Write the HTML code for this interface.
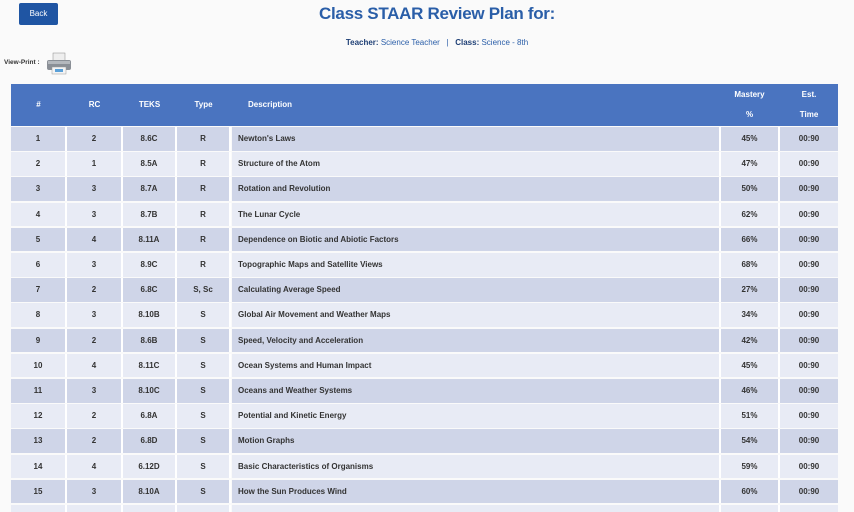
<!DOCTYPE html>
<html style="width:854px;height:512px;overflow:hidden"><head><meta charset="utf-8"><style>
html,body{margin:0;width:854px;height:512px;overflow:hidden}
body{background:#fafafa;font-family:"Liberation Sans",sans-serif;position:relative}
.abs{position:absolute}
.back{left:19px;top:3px;width:39px;height:22px;background:#1f55a3;border-radius:2px;color:#fff;font-size:8px;text-align:center;line-height:22px}
.title{left:0;width:854px;top:4px;text-align:center;padding-left:20px;box-sizing:border-box;color:#2a5ea8;font-size:17px;font-weight:bold;letter-spacing:-0.3px}
.sub{left:0;width:854px;top:38px;text-align:center;padding-left:20px;box-sizing:border-box;font-size:8px;color:#2a5ea8}
.sub b{color:#1e3f75}
.vp{left:4px;top:59px;font-size:6.5px;font-weight:bold;color:#333}
.hdr{left:11px;top:84px;width:827px;height:42px;background:#4a74c0}
.h{position:absolute;color:#fff;font-size:8px;font-weight:bold;text-align:center}
.row{position:absolute;left:11px;width:827px;height:25px}
.c{position:absolute;top:0;height:23.5px;line-height:23.5px;font-size:8px;font-weight:bold;color:#333;text-align:center;border-right:2px solid #fff}
.o{background:#cfd5e8}.e{background:#e8ebf5}
</style></head><body>
<div class="abs back">Back</div>
<div class="abs title">Class STAAR Review Plan for:</div>
<div class="abs sub"><b>Teacher:</b> Science Teacher &nbsp; | &nbsp; <b>Class:</b> Science - 8th</div>
<div class="abs vp">View-Print :</div>
<svg class="abs" style="left:46px;top:52px" width="26" height="24"><rect x="7" y="1" width="12" height="8" fill="#eee" stroke="#888" stroke-width=".5"/><rect x="1" y="8" width="24" height="10" rx="2" fill="#8a8f96"/><rect x="2" y="9" width="22" height="3" fill="#b4b8bd"/><rect x="6" y="15" width="14" height="7" fill="#f4f4f4" stroke="#999" stroke-width=".5"/><rect x="9" y="17" width="8" height="3" fill="#5aa0d8"/></svg>
<div class="abs hdr">
<div class="h" style="left:0;width:55px;top:16px">#</div>
<div class="h" style="left:56px;width:55px;top:16px">RC</div>
<div class="h" style="left:112px;width:53px;top:16px">TEKS</div>
<div class="h" style="left:166px;width:53px;top:16px">Type</div>
<div class="h" style="left:237px;top:16px">Description</div>
<div class="h" style="left:710px;width:57px;top:6px">Mastery</div>
<div class="h" style="left:710px;width:57px;top:26px">%</div>
<div class="h" style="left:769px;width:58px;top:6px">Est.</div>
<div class="h" style="left:769px;width:58px;top:26px">Time</div>
</div>
<div id="rows"></div>
<script>
var d=[[1,2,"8.6C","R","Newton's Laws","45%"],[2,1,"8.5A","R","Structure of the Atom","47%"],[3,3,"8.7A","R","Rotation and Revolution","50%"],[4,3,"8.7B","R","The Lunar Cycle","62%"],[5,4,"8.11A","R","Dependence on Biotic and Abiotic Factors","66%"],[6,3,"8.9C","R","Topographic Maps and Satellite Views","68%"],[7,2,"6.8C","S, Sc","Calculating Average Speed","27%"],[8,3,"8.10B","S","Global Air Movement and Weather Maps","34%"],[9,2,"8.6B","S","Speed, Velocity and Acceleration","42%"],[10,4,"8.11C","S","Ocean Systems and Human Impact","45%"],[11,3,"8.10C","S","Oceans and Weather Systems","46%"],[12,2,"6.8A","S","Potential and Kinetic Energy","51%"],[13,2,"6.8D","S","Motion Graphs","54%"],[14,4,"6.12D","S","Basic Characteristics of Organisms","59%"],[15,3,"8.10A","S","How the Sun Produces Wind","60%"],["","","","","",""]];
var h="";
d.forEach(function(r,i){var cl=i%2?"e":"o";var t=127+i*25.2;
h+='<div class="row" style="top:'+t+'px">'+
'<div class="c '+cl+'" style="left:0;width:54px">'+r[0]+'</div>'+
'<div class="c '+cl+'" style="left:56px;width:54px">'+r[1]+'</div>'+
'<div class="c '+cl+'" style="left:112px;width:52px">'+r[2]+'</div>'+
'<div class="c '+cl+'" style="left:166px;width:52px">'+r[3]+'</div>'+
'<div class="c '+cl+'" style="left:221px;width:481px;text-align:left;padding-left:6px">'+r[4]+'</div>'+
'<div class="c '+cl+'" style="left:710px;width:57px">'+r[5]+'</div>'+
'<div class="c '+cl+'" style="left:769px;width:58px;border-right:0">'+(r[0]===""?"":"00:90")+'</div></div>';});
document.getElementById("rows").innerHTML=h;
</script>
</body></html>
